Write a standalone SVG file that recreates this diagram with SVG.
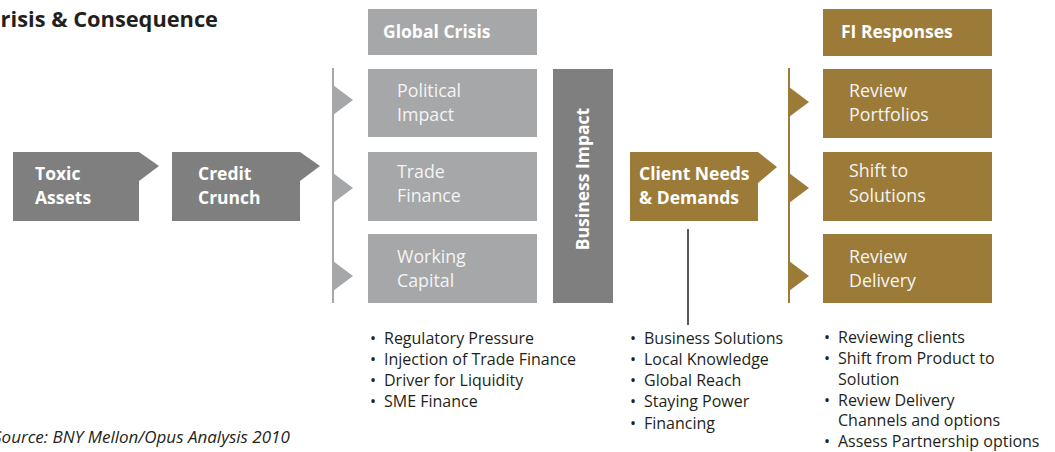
<svg xmlns="http://www.w3.org/2000/svg" width="1055" height="452" viewBox="0 0 1055 452">
<style>
.t{font-family:"Open Sans","Liberation Sans",sans-serif}
.title{font-size:21.8px;font-weight:700;fill:#231f20}
.bw{font-size:17.5px;font-weight:700;fill:#fff}
.rw{font-size:17.8px;fill:#f4f4f4}
.li{font-size:16px;fill:#231f20}
.src{font-size:17px;font-style:italic;fill:#231f20}
.dark{fill:#7f7f80}
.light{fill:#a6a7a9}
.gold{fill:#9c7b38}
</style>
<rect width="1055" height="452" fill="#fff"/>
<text class="t title" x="218" y="27" text-anchor="end">Crisis &amp; Consequence</text>

<g id="connectors">
<line x1="333" y1="68" x2="333" y2="303" stroke="#a6a7a9" stroke-width="2"/>
<polygon class="light" points="333,85 353,100 333,115"/>
<polygon class="light" points="333,173 353,188 333,203"/>
<polygon class="light" points="333,261 353,276 333,291"/>
<line x1="789" y1="68" x2="789" y2="303" stroke="#9c7b38" stroke-width="2"/>
<polygon class="gold" points="789,87 809,102 789,117"/>
<polygon class="gold" points="789,173 809,188 789,203"/>
<polygon class="gold" points="789,261 809,276 789,291"/>
<line x1="688" y1="229" x2="688" y2="325" stroke="#231f20" stroke-width="1.5"/>
</g>

<g id="toxic">
<polygon class="dark" points="13,152 139,152 159,166 139,181 139,221 13,221"/>
<text class="t bw" x="35" y="180">Toxic</text>
<text class="t bw" x="35" y="204">Assets</text>
</g>
<g id="credit">
<polygon class="dark" points="172,152 300,152 320,166 300,181 300,221 172,221"/>
<text class="t bw" x="198" y="180">Credit</text>
<text class="t bw" x="198" y="204">Crunch</text>
</g>

<g id="global-crisis">
<rect class="light" x="368" y="9" width="169" height="46"/>
<text class="t bw" x="383" y="38">Global Crisis</text>
</g>
<g id="political">
<rect class="light" x="368" y="69" width="169" height="68"/>
<text class="t rw" x="397" y="97">Political</text>
<text class="t rw" x="397" y="121">Impact</text>
</g>
<g id="trade">
<rect class="light" x="368" y="152" width="169" height="69"/>
<text class="t rw" x="397" y="178">Trade</text>
<text class="t rw" x="397" y="202">Finance</text>
</g>
<g id="working">
<rect class="light" x="368" y="234" width="169" height="69"/>
<text class="t rw" x="397" y="263">Working</text>
<text class="t rw" x="397" y="287">Capital</text>
</g>

<g id="business-impact">
<rect class="dark" x="553" y="69" width="60" height="234"/>
<text class="t bw" transform="translate(589,179) rotate(-90)" text-anchor="middle">Business Impact</text>
</g>

<g id="client-needs">
<polygon class="gold" points="630,152 758,152 777,167 758,183 758,221 630,221"/>
<text class="t bw" x="639" y="180">Client Needs</text>
<text class="t bw" x="639" y="204">&amp; Demands</text>
</g>

<g id="fi-responses">
<rect class="gold" x="823" y="9" width="169" height="47"/>
<text class="t bw" x="841" y="38">FI Responses</text>
</g>
<g id="review-portfolios">
<rect class="gold" x="823" y="69" width="169" height="69"/>
<text class="t rw" x="849" y="97">Review</text>
<text class="t rw" x="849" y="121">Portfolios</text>
</g>
<g id="shift">
<rect class="gold" x="823" y="152" width="169" height="69"/>
<text class="t rw" x="849" y="177">Shift to</text>
<text class="t rw" x="849" y="202">Solutions</text>
</g>
<g id="review-delivery">
<rect class="gold" x="823" y="234" width="169" height="69"/>
<text class="t rw" x="849" y="263">Review</text>
<text class="t rw" x="849" y="287">Delivery</text>
</g>

<g id="list-crisis" class="t li">
<text x="370" y="344">•</text><text x="384" y="344">Regulatory Pressure</text>
<text x="370" y="365">•</text><text x="384" y="365">Injection of Trade Finance</text>
<text x="370" y="386">•</text><text x="384" y="386">Driver for Liquidity</text>
<text x="370" y="407">•</text><text x="384" y="407">SME Finance</text>
</g>
<g id="list-client" class="t li">
<text x="630" y="344">•</text><text x="644" y="344">Business Solutions</text>
<text x="630" y="365">•</text><text x="644" y="365">Local Knowledge</text>
<text x="630" y="386">•</text><text x="644" y="386">Global Reach</text>
<text x="630" y="407">•</text><text x="644" y="407">Staying Power</text>
<text x="630" y="429">•</text><text x="644" y="429">Financing</text>
</g>
<g id="list-fi" class="t li">
<text x="824" y="343">•</text><text x="838" y="343">Reviewing clients</text>
<text x="824" y="364">•</text><text x="838" y="364">Shift from Product to</text>
<text x="838" y="385">Solution</text>
<text x="824" y="406">•</text><text x="838" y="406">Review Delivery</text>
<text x="838" y="426">Channels and options</text>
<text x="824" y="447">•</text><text x="838" y="447">Assess Partnership options</text>
</g>

<text class="t src" x="-7" y="443">Source: BNY Mellon/Opus Analysis 2010</text>
</svg>
